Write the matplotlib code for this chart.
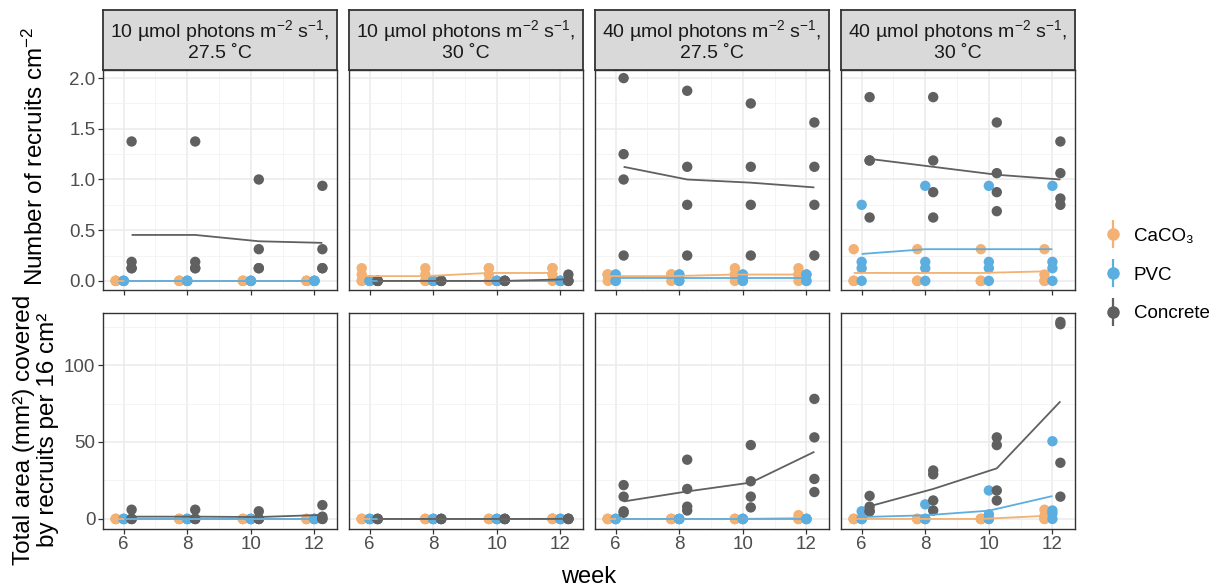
import matplotlib
matplotlib.use("Agg")
import matplotlib.pyplot as plt
from matplotlib.lines import Line2D
from matplotlib.legend_handler import HandlerTuple
import numpy as np

plt.rcParams['font.family'] = ['Liberation Sans', 'DejaVu Sans']
plt.rcParams['mathtext.fontset'] = 'custom'
plt.rcParams['mathtext.rm'] = 'Liberation Sans'
plt.rcParams['mathtext.it'] = 'Liberation Sans:italic'

# ---------------- data ----------------
weeks = [6, 8, 10, 12]
materials = ["CaCO₃", "PVC", "Concrete"]
colors = ["#F3B173", "#5CAEE0", "#606060"]
panel_titles = [
    "10 µmol photons m$^{-2}$ s$^{-1}$,\n27.5 ˚C",
    "10 µmol photons m$^{-2}$ s$^{-1}$,\n30 ˚C",
    "40 µmol photons m$^{-2}$ s$^{-1}$,\n27.5 ˚C",
    "40 µmol photons m$^{-2}$ s$^{-1}$,\n30 ˚C",
]
y_ticks_top = [0.0, 0.5, 1.0, 1.5, 2.0]
y_ticks_bottom = [0, 50, 100]

# recruits per cm2: rows = weeks (6, 8, 10, 12), 4 replicate tiles each
rec_p1_caco3 = [[0, 0, 0, 0], [0, 0, 0, 0], [0, 0, 0, 0], [0, 0, 0, 0]]
rec_p1_pvc = [[0, 0, 0, 0], [0, 0, 0, 0], [0, 0, 0, 0], [0, 0, 0, 0]]
rec_p1_concrete = [[1.375, 0.1875, 0.125, 0.125], [1.375, 0.1875, 0.125, 0.125],
                   [1.0, 0.3125, 0.125, 0.125], [0.9375, 0.3125, 0.125, 0.125]]

rec_p2_caco3 = [[0.125, 0.0625, 0, 0], [0.125, 0.0625, 0, 0],
                [0.125, 0.125, 0.0625, 0], [0.125, 0.125, 0.0625, 0]]
rec_p2_pvc = [[0, 0, 0, 0], [0, 0, 0, 0], [0, 0, 0, 0], [0, 0, 0, 0]]
rec_p2_concrete = [[0, 0, 0, 0], [0, 0, 0, 0], [0, 0, 0, 0], [0.0625, 0, 0, 0]]

rec_p3_caco3 = [[0.0625, 0.0625, 0.0625, 0], [0.0625, 0.0625, 0.0625, 0],
                [0.125, 0.0625, 0.0625, 0], [0.125, 0.0625, 0.0625, 0]]
rec_p3_pvc = [[0.0625, 0.0625, 0, 0], [0.0625, 0.0625, 0, 0],
              [0.0625, 0.0625, 0, 0], [0.0625, 0.0625, 0, 0]]
rec_p3_concrete = [[2.0, 1.25, 1.0, 0.25], [1.875, 1.125, 0.75, 0.25],
                   [1.75, 1.125, 0.75, 0.25], [1.5625, 1.125, 0.75, 0.25]]

rec_p4_caco3 = [[0.3125, 0, 0, 0], [0.3125, 0, 0, 0], [0.3125, 0, 0, 0], [0.3125, 0.0625, 0, 0]]
rec_p4_pvc = [[0.75, 0.1875, 0.125, 0], [0.9375, 0.1875, 0.125, 0],
              [0.9375, 0.1875, 0.125, 0], [0.9375, 0.1875, 0.125, 0]]
rec_p4_concrete = [[1.8125, 1.1875, 1.1875, 0.625], [1.8125, 1.1875, 0.875, 0.625],
                   [1.5625, 1.0625, 0.875, 0.6875], [1.375, 1.0625, 0.8125, 0.75]]

# total area (mm2) covered by recruits per 16 cm2
area_p1_caco3 = [[0, 0, 0, 0], [0, 0, 0, 0], [0, 0, 0, 0], [0, 0, 0, 0]]
area_p1_pvc = [[0, 0, 0, 0], [0, 0, 0, 0], [0, 0, 0, 0], [0, 0, 0, 0]]
area_p1_concrete = [[6, 0, 0, 0], [6, 0, 0, 0], [5, 0, 0, 0], [9, 1.5, 0, 0]]

area_p2_caco3 = [[0, 0, 0, 0], [0, 0, 0, 0], [0, 0, 0, 0], [0.3, 0, 0, 0]]
area_p2_pvc = [[0, 0, 0, 0], [0, 0, 0, 0], [0, 0, 0, 0], [0, 0, 0, 0]]
area_p2_concrete = [[0, 0, 0, 0], [0, 0, 0, 0], [0, 0, 0, 0], [0.2, 0, 0, 0]]

area_p3_caco3 = [[0, 0, 0, 0], [0, 0, 0, 0], [0, 0, 0, 0], [2.5, 0, 0, 0]]
area_p3_pvc = [[0, 0, 0, 0], [0, 0, 0, 0], [0, 0, 0, 0], [0, 0, 0, 0]]
area_p3_concrete = [[22, 14.5, 5, 4], [38.5, 19.5, 8, 5.5],
                    [48, 24.5, 14.5, 7.5], [78, 53, 26, 17.5]]

area_p4_caco3 = [[0, 0, 0, 0], [0, 0, 0, 0], [0, 0, 0, 0], [6, 2, 0, 0]]
area_p4_pvc = [[5, 0, 0, 0], [9.5, 0, 0, 0], [18.5, 3, 0, 0], [50.5, 5.5, 3.5, 0]]
area_p4_concrete = [[15, 8, 5, 5], [31.5, 29, 12, 5.5],
                    [53, 48, 18.5, 12], [128, 126.5, 36.5, 14.5]]

rec_panels = [
    [rec_p1_caco3, rec_p1_pvc, rec_p1_concrete],
    [rec_p2_caco3, rec_p2_pvc, rec_p2_concrete],
    [rec_p3_caco3, rec_p3_pvc, rec_p3_concrete],
    [rec_p4_caco3, rec_p4_pvc, rec_p4_concrete],
]
area_panels = [
    [area_p1_caco3, area_p1_pvc, area_p1_concrete],
    [area_p2_caco3, area_p2_pvc, area_p2_concrete],
    [area_p3_caco3, area_p3_pvc, area_p3_concrete],
    [area_p4_caco3, area_p4_pvc, area_p4_concrete],
]

# ---------------- layout ----------------
W, H = 1218, 587
fig = plt.figure(figsize=(W / 100, H / 100), dpi=100)


def px_axes(x0, y0, x1, y1):
    return fig.add_axes([x0 / W, 1 - y1 / H, (x1 - x0) / W, (y1 - y0) / H])


col_x = [(103, 337), (349, 583), (595, 829), (841, 1075)]
top_y = (70, 290)
bot_y = (313, 528.5)
strip_y = (10, 70)
dodge = [-0.25, 0.0, 0.25]
FS = 13.5
TICK_C = "#4D4D4D"
BORDER_C = "#333333"


def style_axes(ax, ylim, yticks, yminor, show_y, show_xlabels):
    ax.set_xlim(5.35, 12.71)
    ax.set_ylim(*ylim)
    ax.set_xticks(weeks)
    ax.set_xticks([7, 9, 11], minor=True)
    ax.set_yticks(yticks)
    ax.set_yticks(yminor, minor=True)
    ax.grid(True, which='major', color='#EBEBEB', lw=1.1, zorder=0)
    ax.grid(True, which='minor', color='#F2F2F2', lw=0.6, zorder=0)
    ax.set_axisbelow(True)
    for s in ax.spines.values():
        s.set_color(BORDER_C)
        s.set_linewidth(1.0)
    ax.tick_params(which='minor', length=0)
    ax.tick_params(which='major', length=3.5, width=0.9, color=BORDER_C,
                   labelsize=FS, labelcolor=TICK_C, pad=2)
    if not show_y:
        ax.tick_params(axis='y', which='both', left=False, labelleft=False)
    if not show_xlabels:
        ax.tick_params(axis='x', labelbottom=False)


def draw(ax, data):
    for mi, series in enumerate(data):
        xs = np.array(weeks, dtype=float) + dodge[mi]
        for wi, vals in enumerate(series):
            ax.scatter([xs[wi]] * len(vals), vals, s=56, color=colors[mi],
                       edgecolors='none', zorder=2 + mi)
    for mi, series in enumerate(data):
        xs = np.array(weeks, dtype=float) + dodge[mi]
        means = [np.mean(v) for v in series]
        ax.plot(xs, means, color=colors[mi], lw=1.3, zorder=6,
                solid_capstyle='butt')


for ci, (x0, x1) in enumerate(col_x):
    ax_t = px_axes(x0, top_y[0], x1, top_y[1])
    style_axes(ax_t, (-0.09, 2.08), y_ticks_top, [0.25, 0.75, 1.25, 1.75],
               ci == 0, False)
    if ci == 0:
        ax_t.set_yticklabels([f"{v:.1f}" for v in y_ticks_top])
    draw(ax_t, rec_panels[ci])

    ax_b = px_axes(x0, bot_y[0], x1, bot_y[1])
    style_axes(ax_b, (-6.2, 133.8), y_ticks_bottom, [25, 75, 125],
               ci == 0, True)
    draw(ax_b, area_panels[ci])

    ax_s = px_axes(x0, strip_y[0], x1, strip_y[1])
    ax_s.set_facecolor('#D9D9D9')
    ax_s.set_xticks([])
    ax_s.set_yticks([])
    for s in ax_s.spines.values():
        s.set_color(BORDER_C)
        s.set_linewidth(1.3)
    ax_s.text(0.5, 0.5, panel_titles[ci], ha='center', va='center',
              fontsize=14, color='#1A1A1A', transform=ax_s.transAxes,
              linespacing=1.1)

# axis titles
fig.text(35 / W, 1 - 156 / H, "Number of recruits cm$^{-2}$", rotation=90,
         ha='center', va='center', fontsize=17.5, color='black')
fig.text(36 / W, 1 - 430 / H, "Total area (mm²) covered\nby recruits per 16 cm²",
         rotation=90, ha='center', va='center', fontsize=17.5, color='black',
         linespacing=1.15)
fig.text(589 / W, 1 - 577 / H, "week", ha='center', va='center', fontsize=17,
         color='black')

# legend
handles = []
for c in colors:
    vline = Line2D([], [], color=c, marker='|', markersize=20, markeredgewidth=1.6,
                   linestyle='none')
    dot = Line2D([], [], color=c, marker='o', markersize=8, linestyle='none')
    handles.append((vline, dot))
fig.legend(handles, materials, loc='center left',
           bbox_to_anchor=(1087 / W, 1 - 275 / H), frameon=False,
           handler_map={tuple: HandlerTuple(ndivide=1)}, handlelength=1.0,
           handletextpad=0.6, labelspacing=1.15, fontsize=FS, borderpad=0.4)

fig.savefig("out.png", dpi=100)
